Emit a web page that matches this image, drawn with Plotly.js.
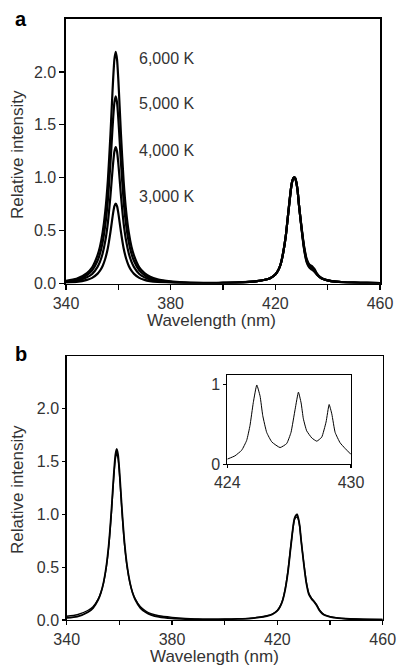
<!DOCTYPE html>
<html>
<head>
<meta charset="utf-8">
<script src="https://cdn.plot.ly/plotly-3.0.1.min.js"></script>
<style>html,body{margin:0;padding:0;background:#fff;}#chart{width:397px;height:669px;}</style>
</head>
<body>
<div id="chart"></div>
<script>
// ---- Data ----
var wavelength = [340, 344, 348, 350, 352, 353, 354, 355, 356, 357, 357.5, 358, 358.5, 359, 359.5, 360, 360.5, 361, 362, 363, 364, 365, 366, 368, 370, 372, 375, 380, 385, 390, 395, 400, 405, 410, 413, 416, 418, 420, 421, 422, 423, 424, 425, 426, 426.5, 427, 427.5, 428, 428.5, 429, 430, 431, 432, 433, 434, 435, 436, 437, 438, 440, 443, 446, 450, 455, 460];

var a6000K = [0.026, 0.044, 0.099, 0.153, 0.263, 0.350, 0.482, 0.679, 0.975, 1.413, 1.673, 1.925, 2.118, 2.19, 2.118, 1.925, 1.673, 1.413, 0.975, 0.679, 0.482, 0.350, 0.263, 0.153, 0.099, 0.066, 0.039, 0.020, 0.011, 0.007, 0.005, 0.007, 0.009, 0.015, 0.022, 0.035, 0.05, 0.085, 0.12, 0.18, 0.29, 0.45, 0.68, 0.90, 0.97, 1.0, 1.0, 0.96, 0.88, 0.75, 0.52, 0.32, 0.2, 0.15, 0.13, 0.11, 0.08, 0.058, 0.044, 0.03, 0.018, 0.012, 0.008, 0.005, 0.004];
var a5000K = [0.021, 0.035, 0.080, 0.124, 0.212, 0.283, 0.389, 0.549, 0.788, 1.142, 1.352, 1.556, 1.712, 1.77, 1.712, 1.556, 1.352, 1.142, 0.788, 0.549, 0.389, 0.283, 0.212, 0.124, 0.080, 0.053, 0.032, 0.016, 0.009, 0.005, 0.004, 0.006, 0.008, 0.015, 0.022, 0.035, 0.05, 0.086, 0.12, 0.18, 0.29, 0.45, 0.68, 0.90, 0.97, 1.0, 0.995, 0.955, 0.88, 0.75, 0.525, 0.33, 0.21, 0.16, 0.14, 0.12, 0.085, 0.06, 0.045, 0.03, 0.018, 0.012, 0.008, 0.005, 0.004];
var a4000K = [0.015, 0.026, 0.058, 0.090, 0.155, 0.206, 0.284, 0.400, 0.574, 0.832, 0.986, 1.134, 1.247, 1.29, 1.247, 1.134, 0.986, 0.832, 0.574, 0.400, 0.284, 0.206, 0.155, 0.090, 0.058, 0.039, 0.023, 0.012, 0.006, 0.004, 0.003, 0.006, 0.008, 0.015, 0.022, 0.035, 0.05, 0.085, 0.12, 0.18, 0.29, 0.45, 0.68, 0.90, 0.97, 1.0, 1.0, 0.96, 0.88, 0.75, 0.53, 0.34, 0.22, 0.17, 0.15, 0.125, 0.088, 0.062, 0.046, 0.03, 0.018, 0.012, 0.008, 0.005, 0.004];
var a3000K = [0.009, 0.015, 0.034, 0.053, 0.091, 0.121, 0.166, 0.234, 0.336, 0.488, 0.578, 0.665, 0.731, 0.756, 0.731, 0.665, 0.578, 0.488, 0.336, 0.234, 0.166, 0.121, 0.091, 0.053, 0.034, 0.023, 0.014, 0.007, 0.004, 0.003, 0.002, 0.005, 0.008, 0.015, 0.022, 0.035, 0.05, 0.085, 0.12, 0.18, 0.29, 0.45, 0.68, 0.90, 0.97, 1.0, 1.0, 0.96, 0.88, 0.75, 0.535, 0.35, 0.23, 0.18, 0.165, 0.135, 0.09, 0.063, 0.047, 0.03, 0.018, 0.012, 0.008, 0.005, 0.004];

var b1 = [0.02, 0.032, 0.073, 0.113, 0.194, 0.259, 0.356, 0.502, 0.721, 1.045, 1.238, 1.424, 1.567, 1.62, 1.567, 1.424, 1.238, 1.045, 0.721, 0.502, 0.356, 0.259, 0.194, 0.113, 0.073, 0.049, 0.029, 0.015, 0.009, 0.006, 0.005, 0.007, 0.01, 0.016, 0.024, 0.037, 0.052, 0.088, 0.125, 0.185, 0.29, 0.45, 0.67, 0.89, 0.96, 0.99, 1.0, 0.96, 0.89, 0.76, 0.54, 0.35, 0.24, 0.2, 0.17, 0.135, 0.09, 0.062, 0.045, 0.03, 0.018, 0.012, 0.008, 0.005, 0.004];
var b2 = [0.035, 0.05, 0.09, 0.125, 0.2, 0.26, 0.352, 0.49, 0.703, 1.019, 1.207, 1.389, 1.528, 1.58, 1.528, 1.389, 1.207, 1.019, 0.703, 0.49, 0.352, 0.26, 0.2, 0.125, 0.085, 0.06, 0.04, 0.025, 0.015, 0.01, 0.007, 0.008, 0.011, 0.018, 0.026, 0.04, 0.055, 0.09, 0.127, 0.19, 0.3, 0.46, 0.68, 0.88, 0.95, 0.97, 0.975, 0.95, 0.88, 0.76, 0.545, 0.36, 0.25, 0.205, 0.175, 0.14, 0.095, 0.066, 0.048, 0.032, 0.02, 0.013, 0.009, 0.006, 0.005];

var insetX = [424.0, 424.37, 424.7, 424.94, 425.1, 425.26, 425.43, 425.59, 425.72, 425.91, 426.16, 426.56, 426.88, 427.09, 427.29, 427.45, 427.58, 427.69, 427.85, 428.1, 428.34, 428.58, 428.79, 428.94, 429.07, 429.23, 429.47, 429.71, 430.0];
var insetY = [0.065, 0.106, 0.177, 0.30, 0.485, 0.773, 0.995, 0.855, 0.61, 0.40, 0.28, 0.21, 0.26, 0.40, 0.69, 0.905, 0.77, 0.57, 0.42, 0.33, 0.29, 0.34, 0.53, 0.75, 0.63, 0.40, 0.27, 0.20, 0.124];

var tempLabels = ['6,000 K', '5,000 K', '4,000 K', '3,000 K'];
var xTickVals = [340, 360, 380, 400, 420, 440, 460];
var xTickText = ['340', '', '380', '', '420', '', '460'];
var yTickVals = [0, 0.5, 1, 1.5, 2];
var yTickText = ['0.0', '0.5', '1.0', '1.5', '2.0'];
var insetXTicks = [424, 430];
var insetYTicks = [0, 1];

// ---- Plot ----
var W = 397, H = 669;
function px(x) { return x / W; }
function py(y) { return 1 - y / H; }

var FONT = 'Liberation Sans, Arial, Helvetica, sans-serif';
var TXT = '#333333';

function line(x, y, xa, ya, w, smooth) {
  return {x: x, y: y, xaxis: xa, yaxis: ya, type: 'scatter', mode: 'lines',
          line: {color: '#000', width: w, shape: 'spline', smoothing: smooth},
          hoverinfo: 'skip'};
}

var traces = [
  line(wavelength, a6000K, 'x', 'y', 2.2, 0.6),
  line(wavelength, a5000K, 'x', 'y', 2.2, 0.6),
  line(wavelength, a4000K, 'x', 'y', 2.2, 0.6),
  line(wavelength, a3000K, 'x', 'y', 2.2, 0.6),
  line(wavelength, b1, 'x2', 'y2', 1.8, 0.6),
  line(wavelength, b2, 'x2', 'y2', 1.4, 0.6),
  line(insetX, insetY, 'x3', 'y3', 1.0, 0.4)
];

function axis(extra) {
  var base = {showline: true, linecolor: '#000', linewidth: 1.6, mirror: true,
              showgrid: false, zeroline: false, ticks: 'outside', tickcolor: '#000',
              tickwidth: 1.2, ticklen: 5, fixedrange: true,
              tickfont: {family: FONT, size: 16, color: TXT}};
  for (var k in extra) base[k] = extra[k];
  return base;
}

var anns = [];
function ann(text, x, y, opts) {
  var a = {text: text, x: x, y: y, xref: 'paper', yref: 'paper', showarrow: false,
           font: {family: FONT, size: 17, color: TXT}, xanchor: 'center', yanchor: 'middle'};
  for (var k in opts) a[k] = opts[k];
  anns.push(a);
}
// axis titles
ann('Relative intensity', px(17), py(155), {textangle: -90});
ann('Wavelength (nm)', px(212), py(320));
ann('Relative intensity', px(17), py(490), {textangle: -90});
ann('Wavelength (nm)', px(214), py(656));
// panel letters
ann('<b>a</b>', px(21), py(19), {font: {family: FONT, size: 20, color: '#000'}});
ann('<b>b</b>', px(21), py(354), {font: {family: FONT, size: 20, color: '#000'}});
// temperature labels (data coords of panel a)
var labelY = [2.13, 1.70, 1.26, 0.82];
for (var i = 0; i < tempLabels.length; i++) {
  anns.push({text: tempLabels[i], x: 367.2, y: labelY[i], xref: 'x', yref: 'y',
             showarrow: false, xanchor: 'left', yanchor: 'middle',
             font: {family: FONT, size: 16, color: TXT}});
}

var layout = {
  width: W, height: H,
  margin: {l: 0, r: 0, t: 0, b: 0},
  paper_bgcolor: '#fff', plot_bgcolor: 'rgba(0,0,0,0)',
  showlegend: false,
  font: {family: FONT, size: 16, color: TXT},
  xaxis: axis({domain: [px(66), px(380)], range: [340, 460], anchor: 'y',
               tickmode: 'array', tickvals: xTickVals, ticktext: xTickText}),
  yaxis: axis({domain: [py(283.5), py(19)], range: [0, 2.5], anchor: 'x',
               tickmode: 'array', tickvals: yTickVals, ticktext: yTickText}),
  xaxis2: axis({domain: [px(66.7), px(382.7)], range: [340, 460], anchor: 'y2',
                tickmode: 'array', tickvals: xTickVals, ticktext: xTickText, ticklen: 4, linewidth: 1.4}),
  yaxis2: axis({domain: [py(620), py(356)], range: [0, 2.5], anchor: 'x2',
                tickmode: 'array', tickvals: yTickVals, ticktext: yTickText, ticklen: 3, linewidth: 1.4}),
  xaxis3: axis({domain: [px(227.3), px(351)], range: [424, 430], anchor: 'y3',
                tickmode: 'array', tickvals: insetXTicks, ticktext: insetXTicks.map(String),
                ticklen: 3, linewidth: 1, tickfont: {family: FONT, size: 16, color: TXT}}),
  yaxis3: axis({domain: [py(464.3), py(375)], range: [0, 1.12], anchor: 'x3',
                tickmode: 'array', tickvals: insetYTicks, ticktext: insetYTicks.map(String),
                ticklen: 3, linewidth: 1, tickfont: {family: FONT, size: 16, color: TXT}}),
  annotations: anns
};

Plotly.newPlot('chart', traces, layout, {staticPlot: true, displayModeBar: false});
</script>
</body>
</html>
